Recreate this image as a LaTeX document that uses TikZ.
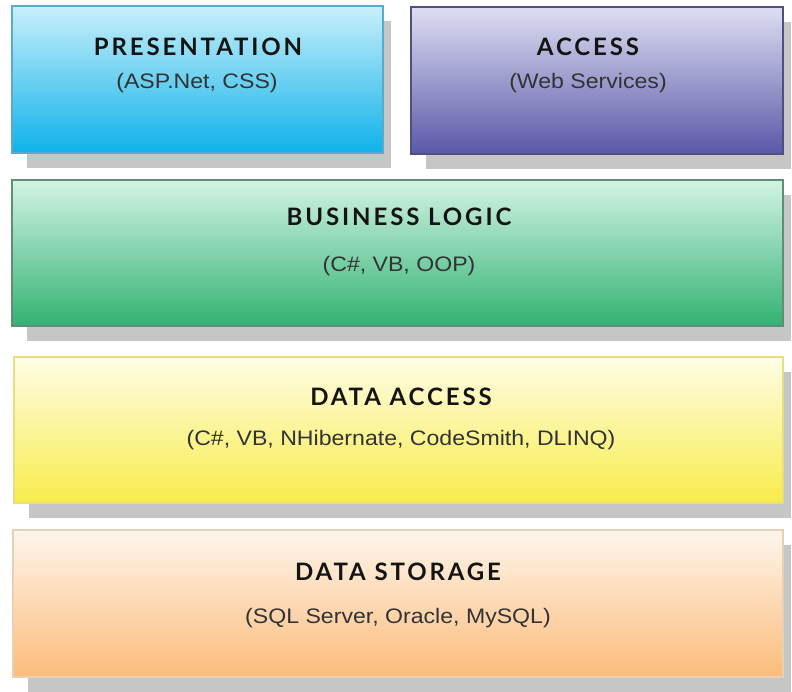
\documentclass[tikz,border=0pt]{standalone}
\usepackage{fontspec}
\setmainfont{Liberation Sans}
\newfontfamily\titlefont[LetterSpace=12]{Lato}
\usetikzlibrary{backgrounds}

\definecolor{shadowgray}{HTML}{C6C6C6}
\definecolor{presTop}{HTML}{C8EFFA}
\definecolor{presBot}{HTML}{0FB2EA}
\definecolor{presLine}{HTML}{5AAACB}
\definecolor{accTop}{HTML}{DEDEF2}
\definecolor{accBot}{HTML}{5858A8}
\definecolor{accLine}{HTML}{50507E}
\definecolor{busTop}{HTML}{D2F3E4}
\definecolor{busBot}{HTML}{32B272}
\definecolor{busLine}{HTML}{5E8E74}
\definecolor{daTop}{HTML}{FFFDE6}
\definecolor{daBot}{HTML}{F8EC4A}
\definecolor{daLine}{HTML}{E6DE80}
\definecolor{dsTop}{HTML}{FFF5EC}
\definecolor{dsBot}{HTML}{FBBC7A}
\definecolor{dsLine}{HTML}{E8D0B4}

\tikzset{
  layer/.style={rectangle, inner sep=0pt, line width=1.2pt},
  headline/.style={font=\titlefont\bfseries\fontsize{24}{28}\selectfont, text=black!92, inner sep=0pt},
  techline/.style={font=\fontsize{21}{24}\selectfont, text=black!80, inner sep=0pt, xscale=1.1},
}

\begin{document}
\begin{tikzpicture}[x=1pt, y=1pt]
  \useasboundingbox (0,0) rectangle (792,-691);

  % the five layer boxes
  \node[layer, draw=presLine, top color=presTop, bottom color=presBot,
        minimum width=371pt, minimum height=147pt] (pres) at (197.5,-79.5) {};
  \node[layer, draw=accLine, top color=accTop, bottom color=accBot,
        minimum width=372pt, minimum height=147pt] (acc) at (597,-80.5) {};
  \node[layer, draw=busLine, top color=busTop, bottom color=busBot,
        minimum width=771pt, minimum height=146pt] (bus) at (397.5,-253) {};
  \node[layer, draw=daLine, top color=daTop, bottom color=daBot,
        minimum width=769pt, minimum height=146pt] (dacc) at (398.5,-430) {};
  \node[layer, draw=dsLine, top color=dsTop, bottom color=dsBot,
        minimum width=770pt, minimum height=147pt] (dsto) at (398,-603.5) {};

  % white page, then grey drop shadows behind every box
  \begin{pgfonlayer}{background}
    \fill[white] (0,0) rectangle (792,-691);
    \foreach \b in {pres,acc,bus,dacc,dsto}
      \fill[shadowgray] ([xshift=16pt,yshift=-14pt]\b.south west)
        rectangle ([xshift=7pt,yshift=-16pt]\b.north east);
  \end{pgfonlayer}

  % titles and technologies
  \node[headline] (presT) at (198,-47) {PRESENTATION};
  \node[techline] (presS) at (197,-83) {(ASP.Net, CSS)};
  \node[headline] (accT) at (588,-47) {ACCESS};
  \node[techline] (accS) at (588,-83) {(Web Services)};
  \node[headline] (busT) at (399,-217) {BUSINESS LOGIC};
  \node[techline] (busS) at (399,-266) {(C\#, VB, OOP)};
  \node[headline] (daccT) at (401,-397) {DATA ACCESS};
  \node[techline] (daccS) at (401,-440) {(C\#, VB, NHibernate, CodeSmith, DLINQ)};
  \node[headline] (dstoT) at (398,-572) {DATA STORAGE};
  \node[techline] (dstoS) at (398,-618) {(SQL Server, Oracle, MySQL)};
\end{tikzpicture}
\end{document}
